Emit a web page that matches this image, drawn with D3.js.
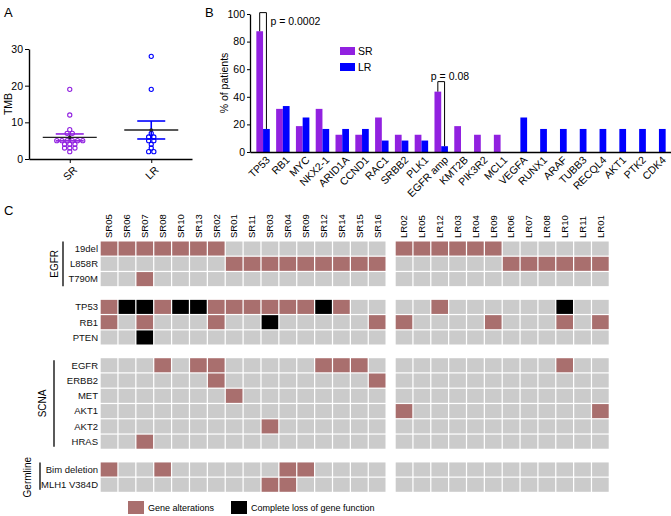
<!DOCTYPE html>
<html>
<head>
<meta charset="utf-8">
<script src="https://d3js.org/d3.v7.min.js"></script>
<style>
  body { margin: 0; background: #fff; }
  svg { font-family: "Liberation Sans", Arial, sans-serif; }
  .axis path, .axis line { stroke: #000; }
</style>
</head>
<body>
<svg width="671" height="516"></svg>
<script>
// ---------- data: panel A (TMB) ----------
const tmbGroups = ["SR", "LR"];
const tmbSR = [19, 12, 8, 7, 7, 5, 5, 5, 5, 5, 5, 4, 4, 4, 3, 3, 3, 2];
const tmbLR = [28, 19, 7, 6, 6, 5, 5, 4, 3, 2, 2];
const tmbTicks = [0, 10, 20, 30];

// ---------- data: panel B (% of patients) ----------
const genes = ["TP53", "RB1", "MYC", "NKX2-1", "ARID1A", "CCND1", "RAC1", "SRBB2", "PLK1",
  "EGFR amp", "KMT2B", "PIK3R2", "MCL1", "VEGFA", "RUNX1", "ARAF", "TUBB3", "RECQL4",
  "AKT1", "PTK2", "CDK4"];
const pctSR = [87.5, 31.25, 18.75, 31.25, 12.5, 12.5, 25, 12.5, 12.5, 43.75, 18.75, 12.5, 12.5,
  0, 0, 0, 0, 0, 0, 0, 0];
const pctLR = [16.7, 33.3, 25, 16.7, 16.7, 16.7, 8.3, 8.3, 8.3, 4.2, 0, 0, 0,
  25, 16.7, 16.7, 16.7, 16.7, 16.7, 16.7, 16.7];
const pctTicks = [0, 20, 40, 60, 80, 100];
const pGenes = ["TP53", "EGFR amp"];
const pTops = [101, 51];
const pLabels = ["p = 0.0002", "p = 0.08"];

// ---------- data: panel C (heatmap) ----------
const srPatients = ["SR05", "SR06", "SR07", "SR08", "SR10", "SR13", "SR02", "SR01", "SR11",
  "SR03", "SR04", "SR09", "SR12", "SR14", "SR15", "SR16"];
const lrPatients = ["LR02", "LR05", "LR12", "LR03", "LR04", "LR09", "LR06", "LR07", "LR08",
  "LR10", "LR11", "LR01"];
const rowNames = ["19del", "L858R", "T790M", "TP53", "RB1", "PTEN", "EGFR", "ERBB2", "MET",
  "AKT1", "AKT2", "HRAS", "Bim deletion", "MLH1 V384D"];
const rowGroup = [0, 0, 0, 1, 1, 1, 2, 2, 2, 2, 2, 2, 3, 3];
const groupNames = ["EGFR", "", "SCNA", "Germline"];
// 0 = none, 1 = gene alteration, 2 = complete loss of gene function
const srStatus = [
  [1,1,1,1,1,1,1,0,0,0,0,0,0,0,0,0],
  [0,0,0,0,0,0,0,1,1,1,1,1,1,1,1,1],
  [0,0,1,0,0,0,0,0,0,0,0,0,0,0,0,0],
  [1,2,2,1,2,2,1,1,1,1,1,1,2,1,0,0],
  [1,0,1,0,0,0,1,0,0,2,0,0,0,0,0,1],
  [0,0,2,0,0,0,0,0,0,0,0,0,0,0,0,0],
  [0,0,0,1,0,1,1,0,0,0,0,0,1,1,1,0],
  [0,0,0,0,0,0,1,0,0,0,0,0,0,0,0,1],
  [0,0,0,0,0,0,0,1,0,0,0,0,0,0,0,0],
  [0,0,0,0,0,0,0,0,0,0,0,0,0,0,0,0],
  [0,0,0,0,0,0,0,0,0,1,0,0,0,0,0,0],
  [0,0,1,0,0,0,0,0,0,0,0,0,0,0,0,0],
  [1,0,0,1,0,0,0,0,0,0,1,1,0,0,0,0],
  [0,0,0,0,0,0,0,0,0,1,1,0,0,0,0,0]
];
const lrStatus = [
  [1,1,1,1,1,1,0,0,0,0,0,0],
  [0,0,0,0,0,0,1,1,1,1,1,1],
  [0,0,0,0,0,0,0,0,0,0,0,0],
  [0,0,1,0,0,0,0,0,0,2,0,0],
  [1,0,0,0,0,1,0,0,0,1,0,1],
  [0,0,0,0,0,0,0,0,0,0,0,0],
  [0,0,0,0,0,0,0,0,0,1,0,0],
  [0,0,0,0,0,0,0,0,0,0,0,0],
  [0,0,0,0,0,0,0,0,0,0,0,0],
  [1,0,0,0,0,0,0,0,0,0,0,1],
  [0,0,0,0,0,0,0,0,0,0,0,0],
  [0,0,0,0,0,0,0,0,0,0,0,0],
  [0,0,0,0,0,0,0,0,0,0,0,0],
  [0,0,0,0,0,0,0,0,0,0,0,0]
];
const legendLabels = ["Gene alterations", "Complete loss of gene function"];

const purple = "#9121e0", blue = "#0000ff";
const statusColor = ["#cbcbcb", "#a96f6e", "#000000"];

const svg = d3.select("svg");

// panel letters
svg.append("text").attr("x", 4).attr("y", 17).style("font-size", "13px").text("A");
svg.append("text").attr("x", 205).attr("y", 17).style("font-size", "13px").text("B");
svg.append("text").attr("x", 4).attr("y", 215).style("font-size", "13px").text("C");

// rotate tick labels of a bottom axis by -45 deg, ending just under the tick
function slantLabels(ax, dx, dy) {
  ax.selectAll(".tick text")
    .attr("x", 0).attr("y", 0).attr("dy", "0.35em")
    .attr("text-anchor", "end")
    .attr("transform", `translate(${dx},${dy}) rotate(-45)`)
    .style("font-size", "10.5px").style("font-family", "inherit");
}

// ================= Panel A =================
const xA = d3.scalePoint().domain(tmbGroups).range([29, 192]).padding(0.5);
const yA = d3.scaleLinear().domain([0, 30]).range([159, 49]);

const axA = svg.append("g").attr("class", "axis").attr("transform", "translate(29,0)")
  .call(d3.axisLeft(yA).tickValues(tmbTicks).tickSize(4).tickPadding(2).tickSizeOuter(0));
axA.selectAll("text").style("font-size", "10.5px").style("font-family", "inherit");
axA.select(".domain").attr("stroke-width", 1.4);

const axAx = svg.append("g").attr("class", "axis").attr("transform", "translate(0,159)")
  .call(d3.axisBottom(xA).tickSize(4).tickSizeOuter(0));
axAx.select(".domain").attr("stroke-width", 1.4);
slantLabels(axAx, 5, 9);

svg.append("text").attr("transform", "translate(12,104) rotate(-90)")
  .attr("text-anchor", "middle").style("font-size", "10.5px").text("TMB");

function spread(vals) {
  const count = d3.rollup(vals, v => v.length, d => d);
  const seen = new Map();
  return vals.map(v => {
    const k = count.get(v), j = seen.get(v) || 0;
    seen.set(v, j + 1);
    return { v, dx: (j - (k - 1) / 2) * 5.2 };
  });
}

[[tmbSR, purple], [tmbLR, blue]].forEach(([vals, col], gi) => {
  const cx = xA(tmbGroups[gi]);
  const m = d3.mean(vals), sem = d3.deviation(vals) / Math.sqrt(vals.length);
  const g = svg.append("g");
  g.selectAll("circle").data(spread(vals)).join("circle")
    .attr("cx", d => cx + d.dx).attr("cy", d => yA(d.v)).attr("r", 2.1)
    .attr("fill", "none").attr("stroke", col).attr("stroke-width", 1.1);
  // mean line
  g.append("line").attr("x1", cx - 27).attr("x2", cx + 27)
    .attr("y1", yA(m)).attr("y2", yA(m)).attr("stroke", "#222").attr("stroke-width", 1.3);
  // SEM
  g.append("line").attr("x1", cx).attr("x2", cx)
    .attr("y1", yA(m + sem)).attr("y2", yA(m - sem)).attr("stroke", col).attr("stroke-width", 1.6);
  [m + sem, m - sem].forEach(v => g.append("line")
    .attr("x1", cx - 14).attr("x2", cx + 14).attr("y1", yA(v)).attr("y2", yA(v))
    .attr("stroke", col).attr("stroke-width", 1.6));
  g.append("circle").attr("cx", cx).attr("cy", yA(m)).attr("r", 1.8).attr("fill", "#222");
});

// ================= Panel B =================
const xB = d3.scaleBand().domain(genes).range([250, 672]).paddingInner(0.32).paddingOuter(0.32);
const sB = d3.scaleBand().domain(tmbGroups).range([0, xB.bandwidth()]);
const yB = d3.scaleLinear().domain([0, 100]).range([152, 14]);

const axB = svg.append("g").attr("class", "axis").attr("transform", "translate(250,0)")
  .call(d3.axisLeft(yB).tickValues(pctTicks).tickSize(3).tickPadding(2).tickSizeOuter(0));
axB.selectAll("text").style("font-size", "10.5px").style("font-family", "inherit");
axB.select(".domain").attr("stroke-width", 1.3);

svg.append("text").attr("transform", "translate(228,83) rotate(-90)")
  .attr("text-anchor", "middle").style("font-size", "10.5px").text("% of patients");

const barData = [];
genes.forEach((g, i) => {
  barData.push({ gene: g, grp: "SR", v: pctSR[i] });
  barData.push({ gene: g, grp: "LR", v: pctLR[i] });
});
svg.append("g").selectAll("rect").data(barData.filter(d => d.v > 0)).join("rect")
  .attr("x", d => xB(d.gene) + sB(d.grp)).attr("width", sB.bandwidth())
  .attr("y", d => yB(d.v)).attr("height", d => yB(0) - yB(d.v))
  .attr("fill", d => d.grp === "SR" ? purple : blue);

const axBx = svg.append("g").attr("class", "axis").attr("transform", "translate(0,152)")
  .call(d3.axisBottom(xB).tickSize(0).tickSizeOuter(0));
axBx.select(".domain").attr("stroke-width", 1.3);
slantLabels(axBx, 5, 6);

// legend B
tmbGroups.forEach((k, i) => {
  const y = 47 + i * 16;
  svg.append("rect").attr("x", 340).attr("y", y).attr("width", 15).attr("height", 8)
    .attr("fill", k === "SR" ? purple : blue);
  svg.append("text").attr("x", 358).attr("y", y + 8).style("font-size", "10.5px").text(k);
});

// p-value brackets
pGenes.forEach((g, i) => {
  const i0 = genes.indexOf(g);
  const xs = xB(g) + sB("SR") + sB.bandwidth() / 2;
  const xl = xB(g) + sB("LR") + sB.bandwidth() / 2;
  const yt = yB(pTops[i]);
  svg.append("path")
    .attr("d", `M${xs},${yB(pctSR[i0])}V${yt}H${xl}V${yB(pctLR[i0])}`)
    .attr("fill", "none").attr("stroke", "#000").attr("stroke-width", 1);
  svg.append("text").style("font-size", "10.5px")
    .attr("x", i === 0 ? xl + 4 : xs - 7).attr("y", i === 0 ? yt + 12 : yt - 2)
    .text(pLabels[i]);
});

// ================= Panel C =================
const xSR = d3.scaleBand().domain(srPatients).range([100.7, 385.5]).paddingInner(0.07);
const xLR = d3.scaleBand().domain(lrPatients).range([395.7, 608.7]).paddingInner(0.07);
const yC = d3.scaleBand().domain(rowNames).range([241.5, 241.5 + 14 * 15.2]).paddingInner(0.08);
const groupGap = 12.5;
const rowY = r => yC(r) + rowGroup[rowNames.indexOf(r)] * groupGap;

const cells = [];
rowNames.forEach((r, ri) => {
  srPatients.forEach((p, ci) => cells.push({ r, x: xSR(p), w: xSR.bandwidth(), s: srStatus[ri][ci] }));
  lrPatients.forEach((p, ci) => cells.push({ r, x: xLR(p), w: xLR.bandwidth(), s: lrStatus[ri][ci] }));
});
svg.append("g").selectAll("rect").data(cells).join("rect")
  .attr("x", d => d.x).attr("y", d => rowY(d.r))
  .attr("width", d => d.w).attr("height", yC.bandwidth())
  .attr("fill", d => statusColor[d.s]);

// column labels
[[srPatients, xSR], [lrPatients, xLR]].forEach(([pts, sc]) => {
  svg.append("g").selectAll("text").data(pts).join("text")
    .attr("transform", d => `translate(${sc(d) + sc.bandwidth() / 2},238) rotate(-90)`)
    .attr("dy", "0.35em").style("font-size", "9.5px").text(d => d);
});

// row labels
svg.append("g").selectAll("text").data(rowNames).join("text")
  .attr("x", 98).attr("y", d => rowY(d) + yC.bandwidth() / 2).attr("dy", "0.35em")
  .attr("text-anchor", "end").style("font-size", "9.5px").style("fill", "#111").text(d => d);

// group labels with bars
const groupLineX = [63, null, 54, 40];
const groupTextX = [58, null, 46, 31];
groupNames.forEach((name, gi) => {
  if (!name) return;
  const rows = rowNames.filter((r, i) => rowGroup[i] === gi);
  const top = rowY(rows[0]), bot = rowY(rows[rows.length - 1]) + yC.bandwidth();
  const inset = gi === 2 ? 2 : 0;
  svg.append("line").attr("x1", groupLineX[gi]).attr("x2", groupLineX[gi])
    .attr("y1", top + inset).attr("y2", bot - inset - (gi === 3 ? 2 : 0))
    .attr("stroke", "#000").attr("stroke-width", 1.3);
  svg.append("text")
    .attr("transform", `translate(${groupTextX[gi]},${(top + bot) / 2}) rotate(-90)`)
    .attr("text-anchor", "middle").style("font-size", "10px").text(name);
});

// legend C
legendLabels.forEach((t, i) => {
  const x = i === 0 ? 128 : 231;
  svg.append("rect").attr("x", x).attr("y", 501).attr("width", 16).attr("height", 13)
    .attr("fill", statusColor[i + 1]);
  svg.append("text").attr("x", x + 20).attr("y", 511).style("font-size", "9px").text(t);
});
</script>
</body>
</html>
